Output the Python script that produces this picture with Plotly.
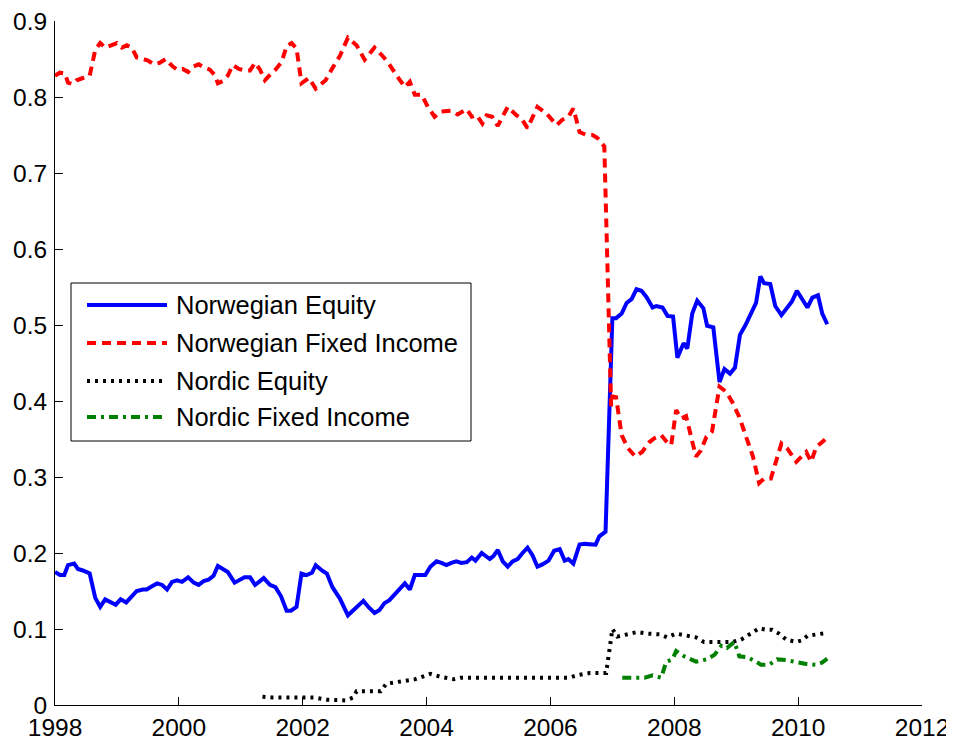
import plotly.graph_objects as go

# ---------------- data ----------------
ne_year = [1998.00, 1998.08, 1998.15, 1998.21, 1998.31, 1998.37, 1998.45, 1998.56, 1998.65, 1998.73,
           1998.81, 1998.89, 1998.98, 1999.06, 1999.15, 1999.24, 1999.32, 1999.42, 1999.48, 1999.58,
           1999.65, 1999.73, 1999.81, 1999.89, 1999.97, 2000.05, 2000.15, 2000.24, 2000.32, 2000.40,
           2000.48, 2000.56, 2000.63, 2000.71, 2000.79, 2000.90, 2000.98, 2001.06, 2001.15, 2001.23,
           2001.31, 2001.37, 2001.47, 2001.56, 2001.65, 2001.74, 2001.81, 2001.90, 2001.98, 2002.06,
           2002.15, 2002.21, 2002.31, 2002.39, 2002.48, 2002.60, 2002.73, 2002.87, 2002.98, 2003.06,
           2003.16, 2003.24, 2003.32, 2003.40, 2003.48, 2003.56, 2003.65, 2003.73, 2003.81, 2003.90,
           2003.98, 2004.06, 2004.16, 2004.24, 2004.32, 2004.40, 2004.48, 2004.56, 2004.65, 2004.73,
           2004.79, 2004.89, 2004.95, 2005.02, 2005.08, 2005.15, 2005.23, 2005.31, 2005.39, 2005.47,
           2005.55, 2005.63, 2005.71, 2005.79, 2005.87, 2005.97, 2006.06, 2006.15, 2006.23, 2006.29,
           2006.37, 2006.47, 2006.55, 2006.63, 2006.73, 2006.79, 2006.89, 2007.00, 2007.06, 2007.15,
           2007.23, 2007.31, 2007.39, 2007.47, 2007.55, 2007.65, 2007.71, 2007.81, 2007.89, 2007.98,
           2008.05, 2008.15, 2008.21, 2008.29, 2008.37, 2008.47, 2008.53, 2008.63, 2008.73, 2008.81,
           2008.90, 2008.98, 2009.06, 2009.15, 2009.24, 2009.32, 2009.39, 2009.45, 2009.55, 2009.63,
           2009.73, 2009.81, 2009.90, 2009.98, 2010.06, 2010.15, 2010.23, 2010.32, 2010.39, 2010.47]
ne_val = [0.175, 0.171, 0.171, 0.184, 0.186, 0.179, 0.177, 0.173, 0.141, 0.129,
          0.139, 0.135, 0.132, 0.139, 0.135, 0.143, 0.150, 0.152, 0.152, 0.157,
          0.160, 0.158, 0.152, 0.162, 0.164, 0.162, 0.168, 0.161, 0.158, 0.163,
          0.165, 0.170, 0.183, 0.179, 0.175, 0.161, 0.164, 0.168, 0.168, 0.158,
          0.163, 0.167, 0.158, 0.155, 0.143, 0.124, 0.124, 0.129, 0.173, 0.171,
          0.174, 0.184, 0.177, 0.173, 0.155, 0.140, 0.118, 0.129, 0.137, 0.129,
          0.121, 0.125, 0.134, 0.138, 0.145, 0.153, 0.160, 0.152, 0.171, 0.171,
          0.171, 0.182, 0.189, 0.187, 0.184, 0.187, 0.189, 0.187, 0.188, 0.194,
          0.190, 0.200, 0.196, 0.192, 0.196, 0.204, 0.189, 0.182, 0.189, 0.192,
          0.200, 0.207, 0.197, 0.182, 0.185, 0.190, 0.203, 0.205, 0.190, 0.192,
          0.186, 0.211, 0.212, 0.211, 0.211, 0.222, 0.228, 0.509, 0.509, 0.515,
          0.529, 0.534, 0.547, 0.545, 0.537, 0.523, 0.525, 0.523, 0.512, 0.511,
          0.457, 0.476, 0.469, 0.515, 0.532, 0.522, 0.499, 0.497, 0.425, 0.442,
          0.436, 0.444, 0.487, 0.500, 0.515, 0.529, 0.564, 0.555, 0.554, 0.525,
          0.513, 0.522, 0.531, 0.545, 0.535, 0.523, 0.536, 0.539, 0.515, 0.501]

nfi_year = [1998.00, 1998.08, 1998.16, 1998.21, 1998.29, 1998.35, 1998.45, 1998.56, 1998.65, 1998.73,
            1998.81, 1998.92, 1999.00, 1999.08, 1999.16, 1999.24, 1999.32, 1999.42, 1999.50, 1999.60,
            1999.69, 1999.79, 1999.89, 1999.97, 2000.06, 2000.15, 2000.23, 2000.32, 2000.40, 2000.50,
            2000.58, 2000.63, 2000.71, 2000.79, 2000.87, 2000.97, 2001.06, 2001.15, 2001.23, 2001.31,
            2001.39, 2001.47, 2001.56, 2001.66, 2001.74, 2001.82, 2001.90, 2001.98, 2002.10, 2002.21,
            2002.37, 2002.48, 2002.60, 2002.73, 2002.87, 2003.00, 2003.16, 2003.29, 2003.39, 2003.52,
            2003.65, 2003.73, 2003.81, 2003.92, 2004.02, 2004.13, 2004.24, 2004.40, 2004.50, 2004.65,
            2004.73, 2004.81, 2004.90, 2004.97, 2005.06, 2005.15, 2005.31, 2005.45, 2005.53, 2005.63,
            2005.79, 2005.94, 2006.10, 2006.19, 2006.29, 2006.37, 2006.47, 2006.58, 2006.68, 2006.76,
            2006.87, 2006.98, 2007.00, 2007.06, 2007.15, 2007.25, 2007.37, 2007.48, 2007.60, 2007.68,
            2007.79, 2007.90, 2007.95, 2008.03, 2008.11, 2008.19, 2008.27, 2008.35, 2008.43, 2008.52,
            2008.61, 2008.73, 2008.84, 2008.94, 2009.05, 2009.16, 2009.27, 2009.37, 2009.45, 2009.56,
            2009.65, 2009.73, 2009.82, 2009.97, 2010.13, 2010.21, 2010.29, 2010.39, 2010.47]
nfi_val = [0.828, 0.832, 0.831, 0.819, 0.817, 0.822, 0.825, 0.828, 0.862, 0.871,
           0.865, 0.868, 0.871, 0.865, 0.868, 0.865, 0.852, 0.850, 0.848, 0.843,
           0.845, 0.850, 0.841, 0.836, 0.837, 0.833, 0.840, 0.843, 0.839, 0.836,
           0.829, 0.818, 0.821, 0.828, 0.842, 0.837, 0.835, 0.835, 0.845, 0.836,
           0.822, 0.829, 0.836, 0.846, 0.867, 0.871, 0.864, 0.818, 0.825, 0.811,
           0.822, 0.838, 0.854, 0.878, 0.868, 0.849, 0.865, 0.854, 0.844, 0.828,
           0.813, 0.820, 0.803, 0.803, 0.787, 0.774, 0.781, 0.782, 0.777, 0.784,
           0.774, 0.776, 0.765, 0.776, 0.774, 0.762, 0.787, 0.776, 0.772, 0.759,
           0.787, 0.778, 0.763, 0.770, 0.774, 0.785, 0.754, 0.750, 0.750, 0.746,
           0.735, 0.393, 0.406, 0.405, 0.355, 0.338, 0.327, 0.333, 0.346, 0.351,
           0.355, 0.344, 0.342, 0.388, 0.377, 0.380, 0.351, 0.327, 0.335, 0.353,
           0.360, 0.419, 0.412, 0.398, 0.379, 0.353, 0.327, 0.292, 0.298, 0.298,
           0.322, 0.344, 0.338, 0.320, 0.333, 0.320, 0.339, 0.346, 0.352]

nde_year = [2001.35, 2001.50, 2001.90, 2002.18, 2002.39, 2002.55, 2002.69, 2002.82, 2002.87, 2003.06,
            2003.26, 2003.35, 2003.58, 2003.82, 2004.06, 2004.23, 2004.44, 2004.55, 2004.65, 2006.31,
            2006.42, 2006.63, 2006.90, 2006.95, 2006.98, 2007.00, 2007.08, 2007.40, 2007.55, 2007.76,
            2007.89, 2008.03, 2008.21, 2008.35, 2008.48, 2008.68, 2008.94, 2009.08, 2009.24, 2009.37,
            2009.48, 2009.58, 2009.69, 2009.81, 2009.97, 2010.06, 2010.15, 2010.47]
nde_val = [0.011, 0.010, 0.010, 0.010, 0.007, 0.006, 0.006, 0.010, 0.018, 0.018,
           0.018, 0.028, 0.031, 0.034, 0.041, 0.037, 0.034, 0.036, 0.036, 0.036,
           0.039, 0.042, 0.042, 0.077, 0.088, 0.100, 0.090, 0.096, 0.094, 0.093,
           0.089, 0.094, 0.091, 0.089, 0.083, 0.083, 0.083, 0.086, 0.094, 0.101,
           0.099, 0.099, 0.094, 0.086, 0.083, 0.085, 0.091, 0.095]

nfie_year = [2007.16, 2007.52, 2007.65, 2007.79, 2007.87, 2007.97, 2008.03, 2008.16, 2008.35, 2008.52,
             2008.65, 2008.76, 2008.85, 2008.97, 2009.05, 2009.18, 2009.32, 2009.40, 2009.53, 2009.66,
             2009.81, 2009.97, 2010.13, 2010.29, 2010.39, 2010.47]
nfie_val = [0.036, 0.036, 0.039, 0.036, 0.057, 0.060, 0.071, 0.064, 0.057, 0.060,
            0.066, 0.078, 0.075, 0.083, 0.064, 0.063, 0.057, 0.053, 0.053, 0.060,
            0.059, 0.056, 0.054, 0.053, 0.056, 0.061]

series_names = ["Norwegian Equity", "Norwegian Fixed Income", "Nordic Equity", "Nordic Fixed Income"]
x_ticks = [1998, 2000, 2002, 2004, 2006, 2008, 2010, 2012]
y_ticks = [0, 0.1, 0.2, 0.3, 0.4, 0.5, 0.6, 0.7, 0.8, 0.9]
y_tick_text = ["0", "0.1", "0.2", "0.3", "0.4", "0.5", "0.6", "0.7", "0.8", "0.9"]

# ---------------- styles ----------------
colors = ["#0000FF", "#FF0000", "#000000", "#008000"]
dashes = ["solid", "9px,6px", "3px,5px", "9px,5px,3px,5px"]
LW = 4
FONT = "Liberation Sans, Arial, Helvetica, sans-serif"

fig = go.Figure()
data = [(ne_year, ne_val), (nfi_year, nfi_val), (nde_year, nde_val), (nfie_year, nfie_val)]
for (xs, ys), name, c, d in zip(data, series_names, colors, dashes):
    fig.add_trace(go.Scatter(x=xs, y=ys, mode="lines", name=name,
                             line=dict(color=c, width=LW, dash=d),
                             showlegend=False))

# ---------------- layout geometry ----------------
# the page body has an 8px default margin, so the figure is drawn 8px in/down
OFF = 8
W, H = 954 - OFF, 743 - OFF
plot_left, plot_right, plot_top, plot_bottom = 55, 922, 21, 705  # in window pixels
ml = plot_left - OFF
mt = plot_top - OFF
mr = W - (plot_right - OFF)
mb = H - (plot_bottom - OFF)
pw, ph = W - ml - mr, H - mt - mb

def px_x(px):
    return (px - plot_left) / pw

def px_y(py):
    return (plot_bottom - py) / ph

# ---------------- custom legend (MATLAB-style box) ----------------
shapes = [dict(type="rect", xref="paper", yref="paper",
               x0=px_x(71), x1=px_x(471), y0=px_y(441), y1=px_y(283),
               line=dict(color="black", width=1), fillcolor="white", layer="above")]
annotations = []
row_y = [305, 343, 381, 417]
for name, c, d, ry in zip(series_names, colors, dashes, row_y):
    shapes.append(dict(type="line", xref="paper", yref="paper",
                       x0=px_x(87), x1=px_x(167), y0=px_y(ry), y1=px_y(ry),
                       line=dict(color=c, width=LW, dash=d), layer="above"))
    annotations.append(dict(xref="paper", yref="paper", x=px_x(174), y=px_y(ry),
                            text=name, showarrow=False, xanchor="left", yanchor="middle",
                            font=dict(family=FONT, size=25.5, color="black")))

fig.update_layout(
    width=W, height=H,
    margin=dict(l=ml, r=mr, t=mt, b=mb, pad=0, autoexpand=False),
    paper_bgcolor="white", plot_bgcolor="white",
    font=dict(family=FONT, size=24.5, color="black"),
    shapes=shapes, annotations=annotations,
    showlegend=False,
)
fig.update_xaxes(range=[1998, 2012], tickvals=x_ticks, ticktext=[str(t) for t in x_ticks],
                 ticks="inside", ticklen=8, tickcolor="black", tickwidth=1,
                 showline=True, linecolor="black", linewidth=1, mirror=False,
                 showgrid=False, zeroline=False, tickfont=dict(size=24.5),
                 automargin=False, ticklabelstandoff=1, ticklabeloverflow="allow")
fig.update_yaxes(range=[0, 0.9], tickvals=y_ticks, ticktext=y_tick_text,
                 ticks="inside", ticklen=8, tickcolor="black", tickwidth=1,
                 showline=True, linecolor="black", linewidth=1, mirror=False,
                 showgrid=False, zeroline=False, tickfont=dict(size=24.5),
                 automargin=False, ticklabelstandoff=2, ticklabeloverflow="allow")

fig.write_html("out.html")
